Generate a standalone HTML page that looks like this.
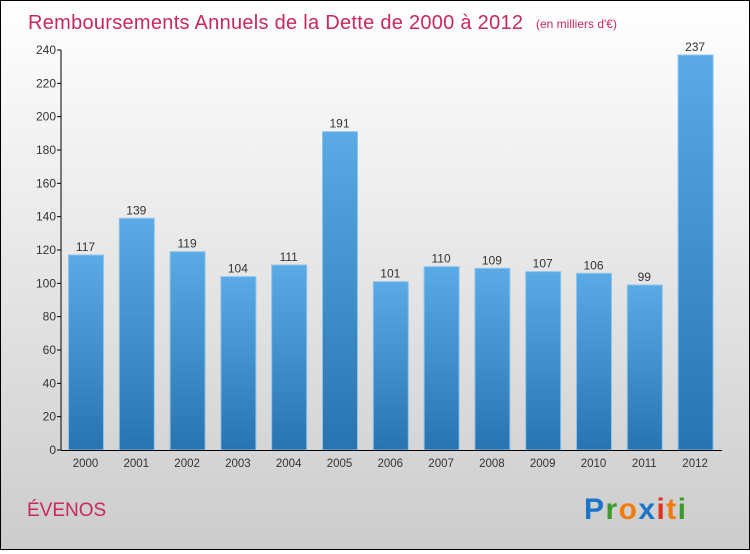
<!DOCTYPE html>
<html><head><meta charset="utf-8"><style>
html,body{margin:0;padding:0}
body{width:750px;height:550px;overflow:hidden;font-family:"Liberation Sans",sans-serif}
#wrap{position:relative;width:748px;height:548px;border:1px solid #000;background:linear-gradient(#fff,#ccc)}
</style></head><body>
<div id="wrap">
<svg id="chart" width="748" height="548">
<defs><linearGradient id="bg" x1="0" y1="0" x2="0" y2="1"><stop offset="0" stop-color="#5aaae6"/><stop offset="1" stop-color="#2874b0"/></linearGradient></defs>
<text x="27" y="28" font-size="20" textLength="495" fill="#c8285a">Remboursements Annuels de la Dette de 2000 à 2012</text>
<text x="535" y="27" font-size="12" fill="#c8285a">(en milliers d'€)</text>
<text x="26" y="515" font-size="19" fill="#c8285a">ÉVENOS</text>
<g font-size="30" font-weight="bold" font-family="Liberation Sans, sans-serif">
<text x="583" y="518" textLength="102"><tspan fill="#1a74c8">P</tspan><tspan fill="#3a9a2a">r</tspan><tspan fill="#f07c10">o</tspan><tspan fill="#1a74c8">x</tspan><tspan fill="#e03020">i</tspan><tspan fill="#f07c10">t</tspan><tspan fill="#3a9a2a">i</tspan></text></g>
<g id="g"></g>
</svg></div>
<script>
const years=["2000","2001","2002","2003","2004","2005","2006","2007","2008","2009","2010","2011","2012"];
const values=[117,139,119,104,111,191,101,110,109,107,106,99,237];
const yTicks=[0,20,40,60,80,100,120,140,160,180,200,220,240];
const ns="http://www.w3.org/2000/svg";
const g=document.getElementById('g');
const y=v=>449-v*400/240;
const x=i=>84.5+i*50.8;
function mk(t,a,txt){const e=document.createElementNS(ns,t);for(const k in a)e.setAttribute(k,a[k]);if(txt!=null)e.textContent=txt;g.appendChild(e);return e;}
values.forEach((v,i)=>{
 const r=mk('rect',{x:x(i)-17,y:y(v),width:35,height:449-y(v),fill:'url(#bg)',stroke:'#8cc4ee','stroke-width':1});
 
 
 const t=mk('text',{x:x(i),y:y(v)-4,'text-anchor':'middle','font-size':12,fill:'#333'},v);
 
 
 const l=mk('text',{x:x(i),y:466,'text-anchor':'middle','font-size':11.5,fill:'#333'},years[i]);
 
 
});
yTicks.forEach(v=>{
 const tk=mk('line',{x1:56,x2:60,y1:y(v),y2:y(v),stroke:'#000'});
 
 
 const t=mk('text',{x:55,y:y(v)+4,'text-anchor':'end','font-size':12,fill:'#333'},v);
 
 
});
const ya=mk('line',{x1:60,x2:60,y1:y(240),y2:449.5,stroke:'#000'});


const xa=mk('line',{x1:60,x2:721,y1:449.5,y2:449.5,stroke:'#000'});


</script>
</body></html>
